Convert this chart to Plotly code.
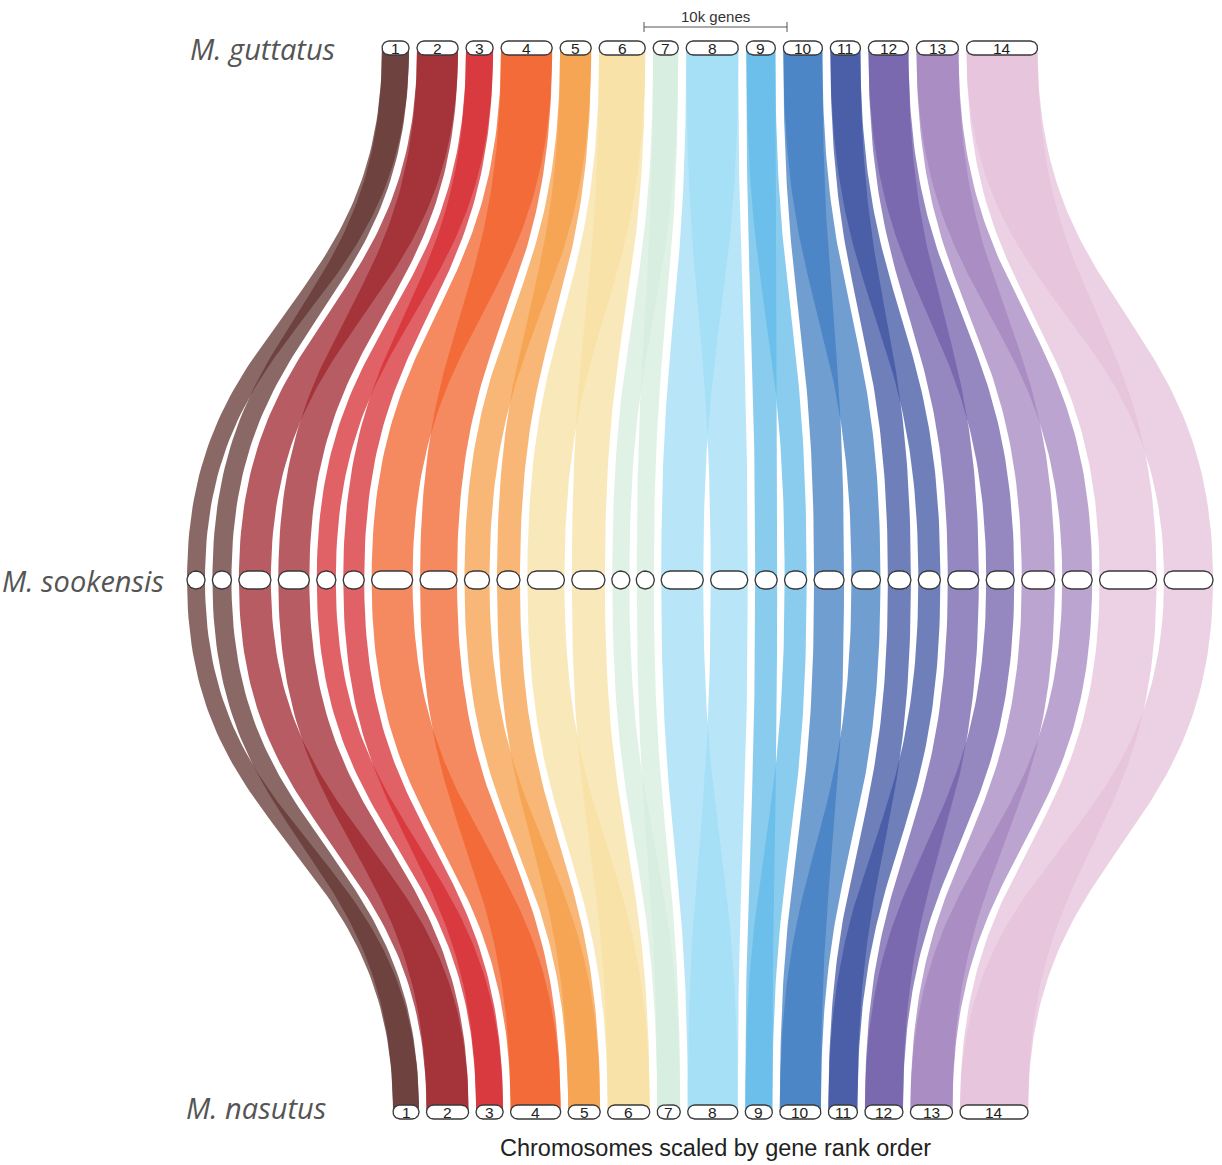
import numpy as np
import plotly.graph_objects as go

# ---------------- data ----------------
chrom_labels = [str(i) for i in range(1, 15)]
# gene counts per chromosome (approx., scale bar = 10k genes)
guttatus_genes = [1890, 2870, 1890, 3570, 2170, 3220, 1750, 3640, 2030, 2730, 2100, 2800, 2940, 4970]
nasutus_genes = [1820, 2940, 1890, 3500, 2240, 2940, 1610, 3500, 1890, 2870, 2030, 2660, 2940, 4760]
# M. sookensis: two homeologous copies (subgenome a / b) of each chromosome
sookensis_a_genes = [1680, 2990, 1780, 3830, 2340, 3460, 1590, 3930, 2060, 2800, 2150, 2900, 3090, 5330]
sookensis_b_genes = [1780, 2900, 1960, 3460, 2150, 3090, 1590, 3460, 2060, 2710, 2060, 2620, 2800, 4580]
chrom_colors = ["#633533", "#9e252d", "#d62d33", "#f1622b", "#f69f4a", "#f7e0a2", "#d5ecde",
                "#a0ddf5", "#62bbe8", "#427ec1", "#3f54a3", "#725faa", "#a485bf", "#e5c1db"]
species_names = ["M. guttatus", "M. sookensis", "M. nasutus"]
scale_bar_genes = 10000
scale_bar_label = "10k genes"
x_title = "Chromosomes scaled by gene rank order"

# ---------------- layout constants ----------------
W, H = 1222, 1165
Y_TOP, Y_MID, Y_BOT = 48, 580, 1112
PX_OUTER = 143.0 / 10000   # px per gene, top and bottom rows
PX_MID = 1.0 / 93.5        # px per gene, middle row (fitted to width)
ALPHA = 0.75


def row_layout(sizes, start, gap, scale):
    out, x = [], start
    for s in sizes:
        w = s * scale
        out.append((x, x + w))
        x += w + gap
    return out


top_pos = row_layout(guttatus_genes, 382, 8.0, PX_OUTER)
bot_pos = row_layout(nasutus_genes, 393, 7.5, PX_OUTER)
mid_sizes = []
for a, b in zip(sookensis_a_genes, sookensis_b_genes):
    mid_sizes += [a, b]
mid_pos = row_layout(mid_sizes, 187, 7.44, PX_MID)


def hex_rgba(h, a):
    h = h.lstrip("#")
    return "rgba(%d,%d,%d,%.3f)" % (int(h[0:2], 16), int(h[2:4], 16), int(h[4:6], 16), a)


def ribbon(xa, ya, xb, yb, n=80):
    t = np.linspace(0, 1, n)
    Y = ya + (yb - ya) * (1.5 * t * (1 - t) + t ** 3)
    S = 3 * t ** 2 - 2 * t ** 3
    left = xa[0] + (xb[0] - xa[0]) * S
    right = xa[1] + (xb[1] - xa[1]) * S
    xs = np.concatenate([left, right[::-1], left[:1]])
    ys = np.concatenate([Y, Y[::-1], Y[:1]])
    return xs, ys


def pill(x0, x1, yc, h, n=24):
    r = h / 2.0
    if x1 - x0 < h:
        c = (x0 + x1) / 2.0
        x0, x1 = c - r, c + r
    a = np.linspace(-np.pi / 2, np.pi / 2, n)
    rx = (x1 - r) + r * np.cos(a)
    ry = yc + r * np.sin(a)
    lx = (x0 + r) - r * np.cos(a)
    ly = yc - r * np.sin(a)
    xs = np.concatenate([rx, lx, rx[:1]])
    ys = np.concatenate([ry, ly, ry[:1]])
    return xs, ys


fig = go.Figure()

# ribbons
for i in range(14):
    col = hex_rgba(chrom_colors[i], ALPHA)
    for k in range(2):
        m = mid_pos[2 * i + k]
        xs, ys = ribbon(top_pos[i], Y_TOP, m, Y_MID)
        fig.add_trace(go.Scatter(x=xs, y=ys, mode="lines", fill="toself", fillcolor=col,
                                 line=dict(width=0), hoverinfo="skip", showlegend=False))
        xs, ys = ribbon(m, Y_MID, bot_pos[i], Y_BOT)
        fig.add_trace(go.Scatter(x=xs, y=ys, mode="lines", fill="toself", fillcolor=col,
                                 line=dict(width=0), hoverinfo="skip", showlegend=False))

# pills
def add_pill(x0, x1, yc, h):
    xs, ys = pill(x0, x1, yc, h)
    fig.add_trace(go.Scatter(x=xs, y=ys, mode="lines", fill="toself", fillcolor="white",
                             line=dict(width=1.3, color="#383838"), hoverinfo="skip",
                             showlegend=False))

annotations = []
for i in range(14):
    add_pill(top_pos[i][0], top_pos[i][1], Y_TOP, 14)
    add_pill(bot_pos[i][0], bot_pos[i][1], Y_BOT, 14)
    for (x0, x1), yc in ((top_pos[i], Y_TOP), (bot_pos[i], Y_BOT)):
        annotations.append(dict(x=(x0 + x1) / 2, y=yc + 0.5, text=chrom_labels[i], showarrow=False,
                                xanchor="center", yanchor="middle",
                                font=dict(family="Liberation Sans, Arial", size=15.5, color="#222")))
for (x0, x1) in mid_pos:
    add_pill(x0, x1, Y_MID, 18)

# species labels
for name, yc, xr in zip(species_names, (Y_TOP, Y_MID, Y_BOT - 5), (337, 166, 328)):
    annotations.append(dict(x=xr, y=yc, text="<i>%s</i>" % name, showarrow=False,
                            xanchor="right", yanchor="middle",
                            font=dict(family="Open Sans", size=29, color="#555555")))

# scale bar
sb_x0 = 644
sb_x1 = sb_x0 + scale_bar_genes * PX_OUTER
fig.add_trace(go.Scatter(x=[sb_x0, sb_x1], y=[27, 27], mode="lines",
                         line=dict(color="#555", width=1), hoverinfo="skip", showlegend=False))
for xx in (sb_x0, sb_x1):
    fig.add_trace(go.Scatter(x=[xx, xx], y=[22, 32], mode="lines",
                             line=dict(color="#555", width=1), hoverinfo="skip", showlegend=False))
annotations.append(dict(x=(sb_x0 + sb_x1) / 2, y=16, text=scale_bar_label, showarrow=False,
                        xanchor="center", yanchor="middle",
                        font=dict(family="Liberation Sans, Arial", size=15, color="#333")))

annotations.append(dict(x=715, y=1148, text=x_title, showarrow=False, xanchor="center",
                        yanchor="middle",
                        font=dict(family="Liberation Sans, Arial", size=23.5, color="#222")))

fig.update_layout(
    width=W, height=H, margin=dict(l=0, r=0, t=0, b=0),
    paper_bgcolor="white", plot_bgcolor="white",
    xaxis=dict(range=[0, W], visible=False, fixedrange=True),
    yaxis=dict(range=[H, 0], visible=False, fixedrange=True),
    annotations=annotations, showlegend=False,
)
fig.write_html("out.html", config={"displayModeBar": False},
               post_script="document.body.style.margin='0';document.body.style.overflow='hidden';")
